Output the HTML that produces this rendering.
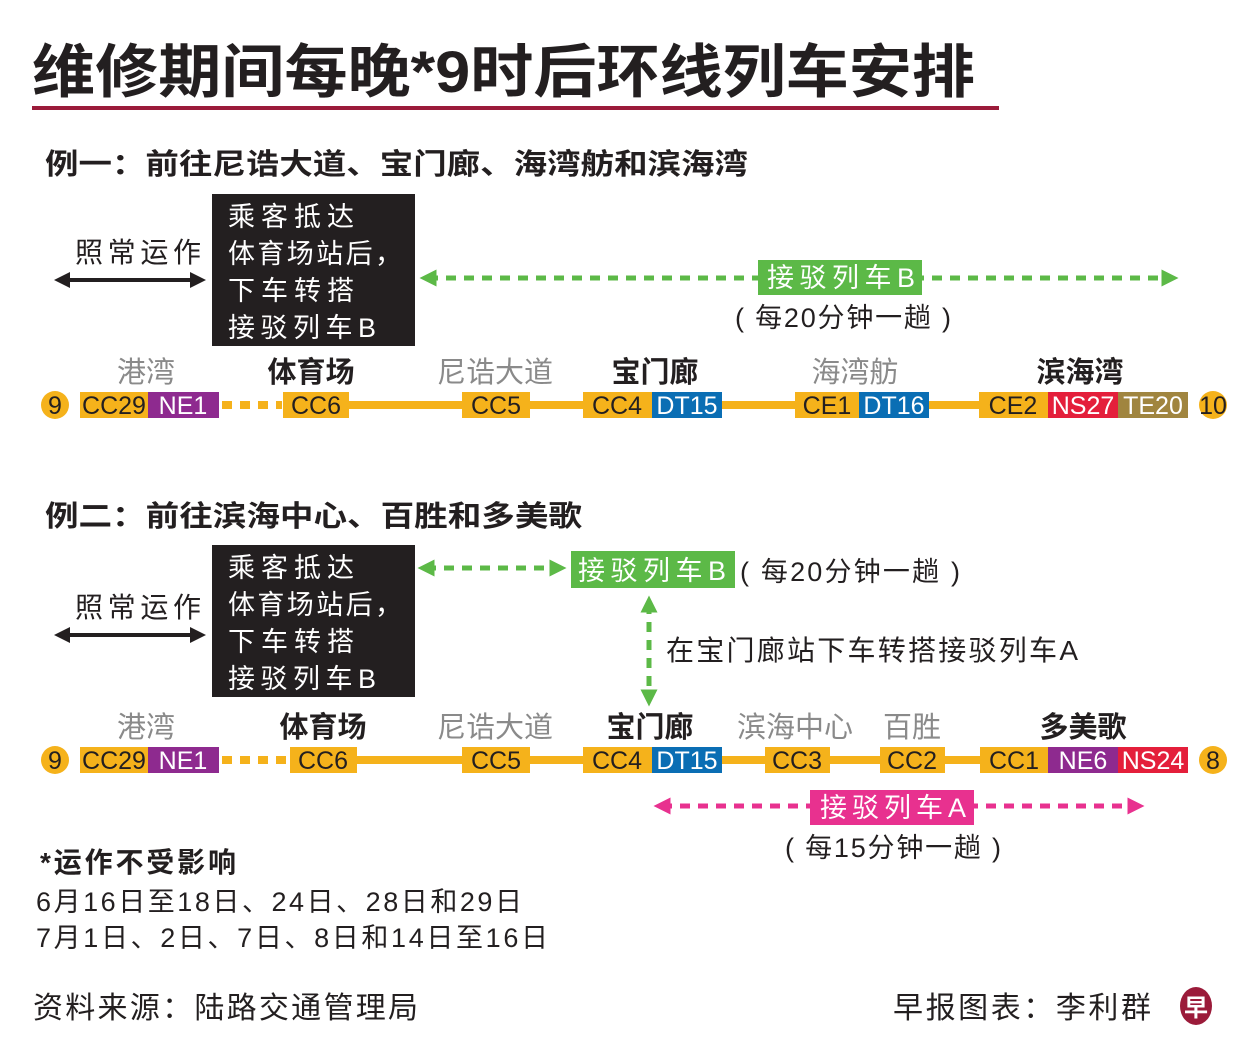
<!DOCTYPE html>
<html><head><meta charset="utf-8"><style>
html,body{margin:0;padding:0;background:#fff}
svg{display:block}
text{font-family:"Liberation Sans","Noto Sans CJK SC",sans-serif}
.b{font-weight:bold}
.st{font-size:29px;text-anchor:middle;fill:#231f20}
.g{fill:#8a8a8a}
.cd{font-size:25px;text-anchor:middle;fill:#231f20}
.w{fill:#fff}
.bx{font-size:27px;fill:#fff}
</style></head><body>
<svg width="1251" height="1061" viewBox="0 0 1251 1061" xmlns="http://www.w3.org/2000/svg">
<defs>
<marker id="ak" viewBox="0 0 10 10" refX="5" refY="5" markerWidth="4" markerHeight="4" orient="auto-start-reverse"><path d="M0,0L10,5L0,10z" fill="#231f20"/></marker>
<marker id="ag" viewBox="0 0 10 10" refX="5" refY="5" markerWidth="3.4" markerHeight="3.4" orient="auto-start-reverse"><path d="M0,0L10,5L0,10z" fill="#5cb947"/></marker>
<marker id="ap" viewBox="0 0 10 10" refX="5" refY="5" markerWidth="3.4" markerHeight="3.4" orient="auto-start-reverse"><path d="M0,0L10,5L0,10z" fill="#e8318f"/></marker>
</defs>
<text x="32" y="92" font-size="58" class="b" fill="#231f20" textLength="943" lengthAdjust="spacingAndGlyphs">维修期间每晚*9时后环线列车安排</text>
<rect x="32" y="106" width="967" height="4" fill="#9b1b3a"/>

<!-- Example 1 -->
<text x="45" y="174" font-size="29" class="b" fill="#231f20" textLength="703" lengthAdjust="spacingAndGlyphs">例一：前往尼诰大道、宝门廊、海湾舫和滨海湾</text>
<rect x="212" y="194" width="203" height="152" fill="#231f20"/>
<text x="228" y="226" class="bx" textLength="126">乘客抵达</text>
<text x="228" y="263" class="bx" textLength="174">体育场站后，</text>
<text x="228" y="300" class="bx" textLength="126">下车转搭</text>
<text x="228" y="337" class="bx" textLength="148">接驳列车B</text>
<text x="75" y="262" font-size="28" fill="#231f20" textLength="126">照常运作</text>
<line x1="62" y1="280" x2="198" y2="280" stroke="#231f20" stroke-width="4" marker-start="url(#ak)" marker-end="url(#ak)"/>
<line x1="428" y1="278" x2="1170" y2="278" stroke="#5cb947" stroke-width="5" stroke-dasharray="10,8" marker-start="url(#ag)" marker-end="url(#ag)"/>
<rect x="758" y="260" width="164" height="35" fill="#5cb947"/>
<text x="767" y="287" font-size="27" class="w" textLength="148">接驳列车B</text>
<text x="735" y="327" font-size="27" fill="#231f20" textLength="216">( 每20分钟一趟 )</text>

<text x="146" y="382" class="st g">港湾</text>
<text x="311" y="382" class="st b">体育场</text>
<text x="495" y="382" class="st g">尼诰大道</text>
<text x="655" y="382" class="st b">宝门廊</text>
<text x="855" y="382" class="st g">海湾舫</text>
<text x="1080" y="382" class="st b">滨海湾</text>

<line x1="222" y1="405" x2="282" y2="405" stroke="#f5b21b" stroke-width="8" stroke-dasharray="10,8"/>
<line x1="349" y1="405" x2="979" y2="405" stroke="#f5b21b" stroke-width="8"/>
<circle cx="55" cy="405" r="14" fill="#f5b21b"/><text x="55" y="414" class="cd">9</text>
<rect x="80" y="392" width="68" height="26" fill="#f5b21b"/><text x="114" y="414" class="cd">CC29</text>
<rect x="148" y="392" width="71" height="26" fill="#8e2a8f"/><text x="183" y="414" class="cd w">NE1</text>
<rect x="283" y="392" width="66" height="26" fill="#f5b21b"/><text x="316" y="414" class="cd">CC6</text>
<rect x="462" y="392" width="68" height="26" fill="#f5b21b"/><text x="496" y="414" class="cd">CC5</text>
<rect x="583" y="392" width="69" height="26" fill="#f5b21b"/><text x="617" y="414" class="cd">CC4</text>
<rect x="652" y="392" width="70" height="26" fill="#0a6eb4"/><text x="687" y="414" class="cd w">DT15</text>
<rect x="795" y="392" width="64" height="26" fill="#f5b21b"/><text x="827" y="414" class="cd">CE1</text>
<rect x="859" y="392" width="70" height="26" fill="#0a6eb4"/><text x="894" y="414" class="cd w">DT16</text>
<rect x="979" y="392" width="69" height="26" fill="#f5b21b"/><text x="1013" y="414" class="cd">CE2</text>
<rect x="1048" y="392" width="70" height="26" fill="#e41f3b"/><text x="1083" y="414" class="cd w">NS27</text>
<rect x="1118" y="392" width="70" height="26" fill="#a0853f"/><text x="1153" y="414" class="cd w">TE20</text>
<circle cx="1213" cy="405" r="14" fill="#f5b21b"/><text x="1213" y="414" class="cd">10</text>

<!-- Example 2 -->
<text x="45" y="526" font-size="29" class="b" fill="#231f20" textLength="537" lengthAdjust="spacingAndGlyphs">例二：前往滨海中心、百胜和多美歌</text>
<rect x="212" y="545" width="203" height="152" fill="#231f20"/>
<text x="228" y="577" class="bx" textLength="126">乘客抵达</text>
<text x="228" y="614" class="bx" textLength="174">体育场站后，</text>
<text x="228" y="651" class="bx" textLength="126">下车转搭</text>
<text x="228" y="688" class="bx" textLength="148">接驳列车B</text>
<text x="75" y="617" font-size="28" fill="#231f20" textLength="126">照常运作</text>
<line x1="62" y1="635" x2="198" y2="635" stroke="#231f20" stroke-width="4" marker-start="url(#ak)" marker-end="url(#ak)"/>
<line x1="426" y1="568" x2="558" y2="568" stroke="#5cb947" stroke-width="5" stroke-dasharray="10,8" marker-start="url(#ag)" marker-end="url(#ag)"/>
<rect x="571" y="551" width="164" height="37" fill="#5cb947"/>
<text x="578" y="580" font-size="27" class="w" textLength="148">接驳列车B</text>
<text x="740" y="581" font-size="27" fill="#231f20" textLength="220">( 每20分钟一趟 )</text>
<line x1="649" y1="604" x2="649" y2="698" stroke="#5cb947" stroke-width="5" stroke-dasharray="10,8" marker-start="url(#ag)" marker-end="url(#ag)"/>
<text x="666" y="660" font-size="28" fill="#231f20" textLength="412">在宝门廊站下车转搭接驳列车A</text>

<text x="146" y="737" class="st g">港湾</text>
<text x="323" y="737" class="st b">体育场</text>
<text x="495" y="737" class="st g">尼诰大道</text>
<text x="650" y="737" class="st b">宝门廊</text>
<text x="795" y="737" class="st g">滨海中心</text>
<text x="912" y="737" class="st g">百胜</text>
<text x="1083" y="737" class="st b">多美歌</text>

<line x1="222" y1="760" x2="288" y2="760" stroke="#f5b21b" stroke-width="8" stroke-dasharray="10,8"/>
<line x1="357" y1="760" x2="980" y2="760" stroke="#f5b21b" stroke-width="8"/>
<circle cx="55" cy="760" r="14" fill="#f5b21b"/><text x="55" y="769" class="cd">9</text>
<rect x="80" y="747" width="68" height="26" fill="#f5b21b"/><text x="114" y="769" class="cd">CC29</text>
<rect x="148" y="747" width="71" height="26" fill="#8e2a8f"/><text x="183" y="769" class="cd w">NE1</text>
<rect x="290" y="747" width="67" height="26" fill="#f5b21b"/><text x="323" y="769" class="cd">CC6</text>
<rect x="462" y="747" width="68" height="26" fill="#f5b21b"/><text x="496" y="769" class="cd">CC5</text>
<rect x="583" y="747" width="69" height="26" fill="#f5b21b"/><text x="617" y="769" class="cd">CC4</text>
<rect x="652" y="747" width="70" height="26" fill="#0a6eb4"/><text x="687" y="769" class="cd w">DT15</text>
<rect x="765" y="747" width="65" height="26" fill="#f5b21b"/><text x="797" y="769" class="cd">CC3</text>
<rect x="880" y="747" width="65" height="26" fill="#f5b21b"/><text x="912" y="769" class="cd">CC2</text>
<rect x="980" y="747" width="68" height="26" fill="#f5b21b"/><text x="1014" y="769" class="cd">CC1</text>
<rect x="1048" y="747" width="70" height="26" fill="#8e2a8f"/><text x="1083" y="769" class="cd w">NE6</text>
<rect x="1118" y="747" width="70" height="26" fill="#e41f3b"/><text x="1153" y="769" class="cd w">NS24</text>
<circle cx="1213" cy="760" r="14" fill="#f5b21b"/><text x="1213" y="769" class="cd">8</text>

<line x1="662" y1="806" x2="1136" y2="806" stroke="#e8318f" stroke-width="5" stroke-dasharray="10,8" marker-start="url(#ap)" marker-end="url(#ap)"/>
<rect x="810" y="790" width="164" height="35" fill="#e8318f"/>
<text x="820" y="817" font-size="27" class="w" textLength="146">接驳列车A</text>
<text x="785" y="857" font-size="27" fill="#231f20" textLength="216">( 每15分钟一趟 )</text>

<text x="40" y="872" font-size="28" class="b" fill="#231f20" textLength="196">*运作不受影响</text>
<text x="36" y="911" font-size="27" fill="#231f20" textLength="486">6月16日至18日、24日、28日和29日</text>
<text x="36" y="947" font-size="27" fill="#231f20" textLength="512">7月1日、2日、7日、8日和14日至16日</text>

<text x="33" y="1018" font-size="30" fill="#231f20" textLength="385">资料来源：陆路交通管理局</text>
<text x="893" y="1018" font-size="30" fill="#231f20" textLength="258">早报图表：李利群</text>
<ellipse cx="1196" cy="1006" rx="16" ry="19" fill="#9b1b3a"/>
<text x="1196" y="1016" font-size="24" class="w b" text-anchor="middle">早</text>
</svg>
</body></html>
